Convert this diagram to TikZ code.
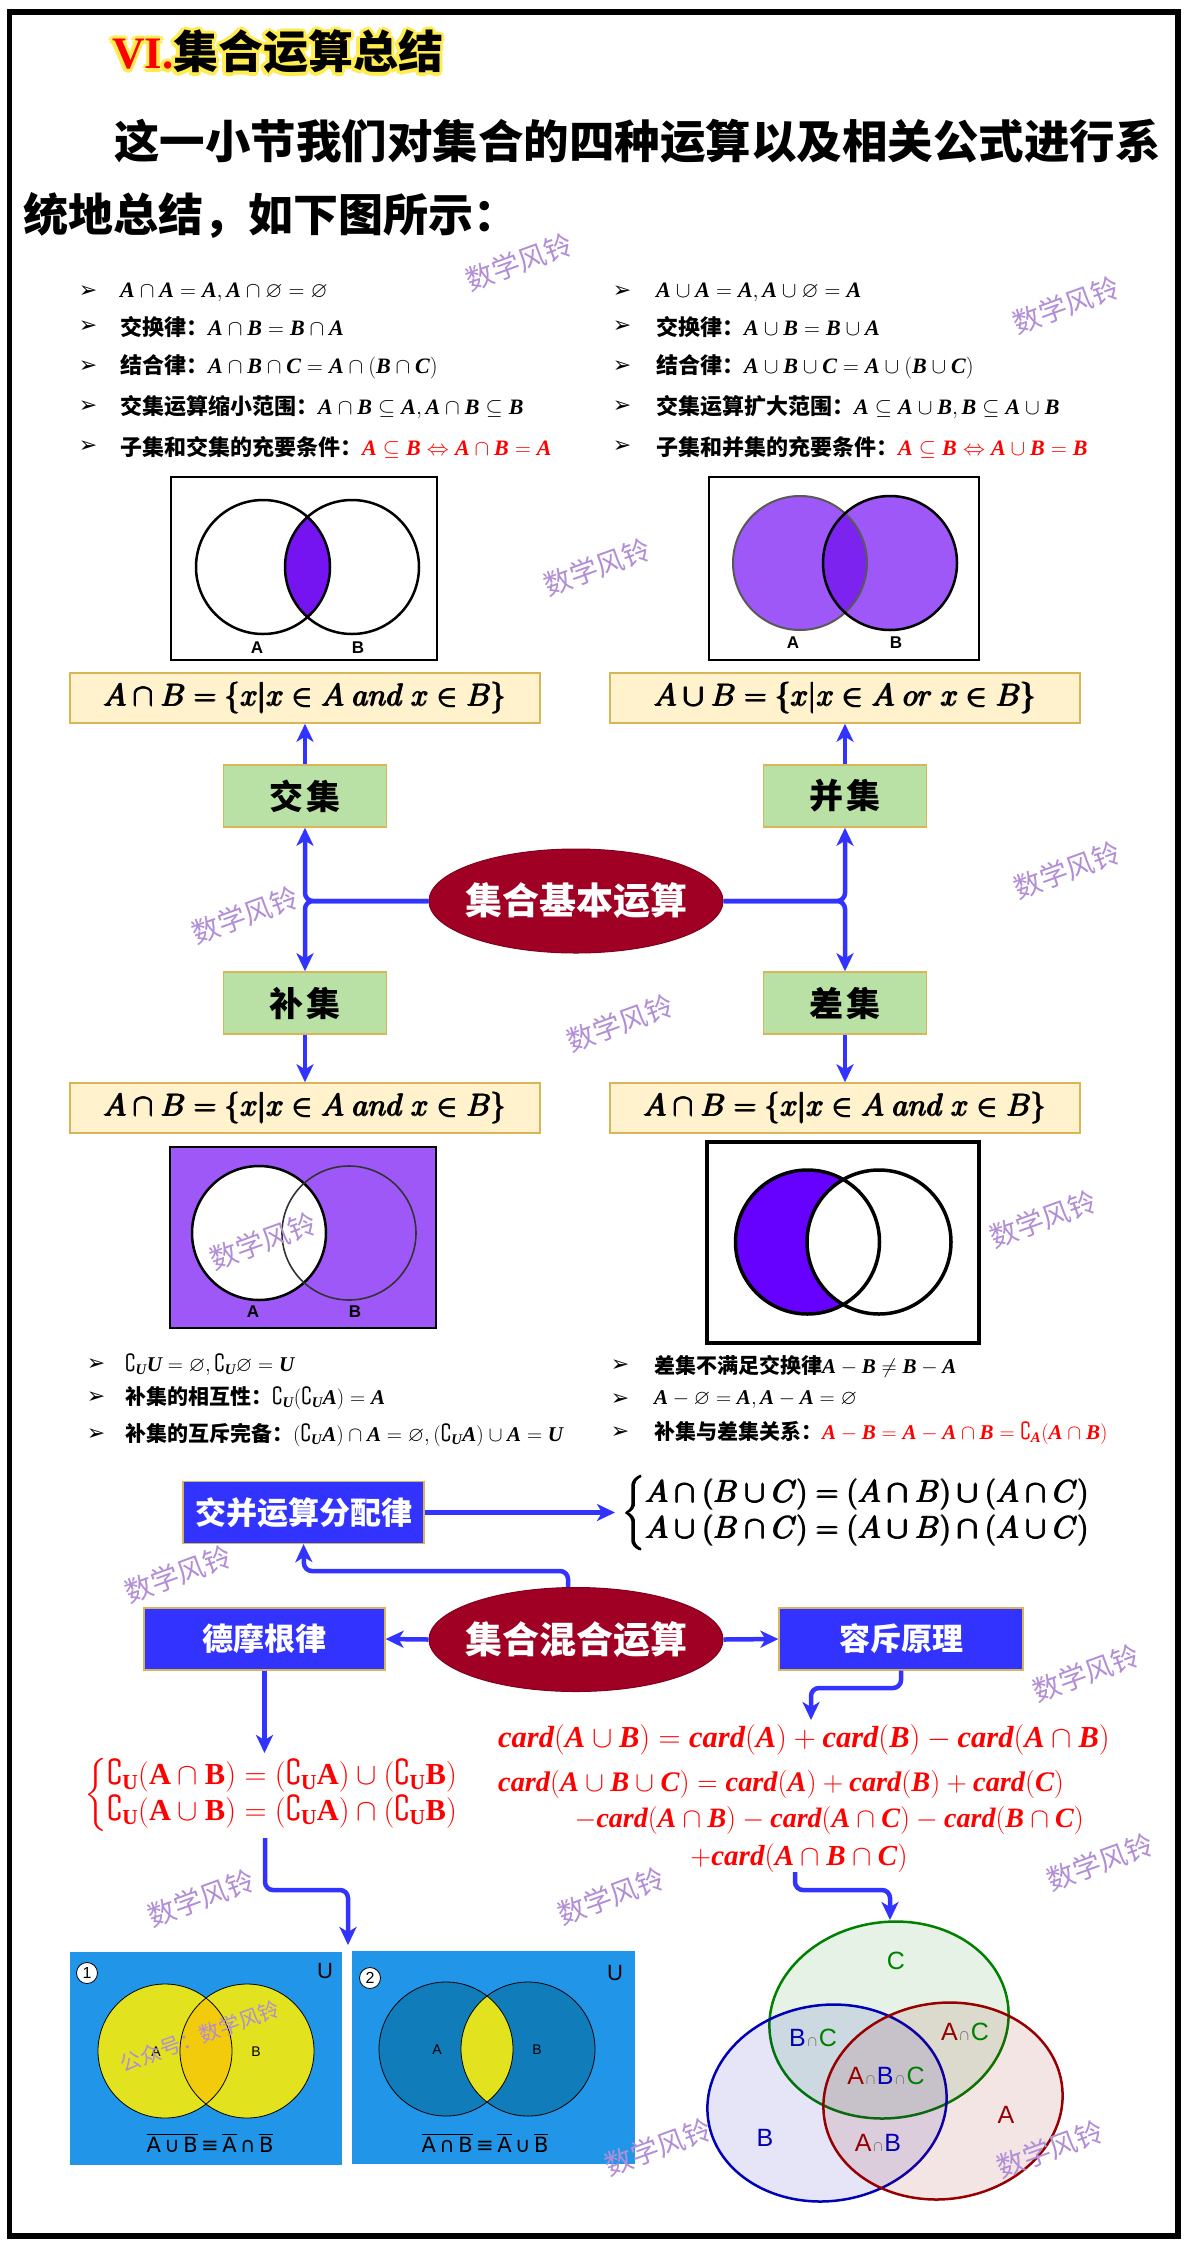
\RequirePackage{fix-cm}
\documentclass[tikz,border=0pt]{standalone}
\usepackage{amssymb}
\usepackage{fontspec}
\usetikzlibrary{shapes.geometric,arrows.meta}
\newfontfamily\cjk{Noto Sans CJK SC}
\newfontfamily\tnr{Liberation Serif}[NFSSFamily=tnr]
\newfontfamily\lsans{Liberation Sans}
\newfontfamily\dejavu{DejaVu Sans}
\DeclareMathAlphabet{\mtb}{TU}{tnr}{bx}{it}
\DeclareMathAlphabet{\mtr}{TU}{tnr}{bx}{n}
\newcommand\fsz[1]{\fontsize{#1}{#1}\selectfont}
\newcommand\pbold[1]{\leavevmode\rlap{#1}\rlap{\kern0.8pt#1}\rlap{\kern1.6pt#1}\rlap{\raisebox{0.7pt}{\kern0.8pt#1}}\rlap{\raisebox{-0.7pt}{\kern0.8pt#1}}\kern1.6pt\phantom{#1}}
\newcommand\setand{\lbrace x\vert x\in A\mkern5mu and\mkern5mu x\in B\rbrace}
\newcommand\setor{\lbrace x\vert x\in A\mkern5mu or\mkern5mu x\in B\rbrace}
\definecolor{wmc}{RGB}{178,142,214}
\definecolor{cblue}{RGB}{51,51,255}
\definecolor{bfill}{RGB}{51,51,255}
\definecolor{boxb}{RGB}{214,182,86}
\definecolor{gfill}{RGB}{185,224,165}
\definecolor{yfill}{RGB}{255,242,204}
\definecolor{ellc}{RGB}{160,0,35}
\definecolor{pv}{RGB}{117,20,240}
\definecolor{pl}{RGB}{158,88,248}
\definecolor{pd}{RGB}{125,35,240}
\definecolor{pdiff}{RGB}{102,0,255}
\definecolor{vbg}{RGB}{33,150,232}
\definecolor{vy}{RGB}{226,226,30}
\definecolor{vo}{RGB}{242,204,12}
\definecolor{vdb}{RGB}{17,124,186}
\definecolor{cg}{RGB}{0,128,0}
\definecolor{cb}{RGB}{0,0,180}
\definecolor{cr}{RGB}{150,0,0}
\definecolor{glowc}{RGB}{255,236,80}
\newcommand\ttl[2]{{\tnr\bfseries\color{#1}VI.}{\cjk\bfseries\color{#2}集合运算总结}}
\begin{document}
\begin{tikzpicture}[x=1pt,y=-1pt,
  wmark/.style={text=wmc, font=\cjk\fsz{28}, rotate=20, inner sep=0pt},
  gbox/.style={draw=boxb, fill=gfill, line width=1.5pt, minimum width=163pt, minimum height=62pt, font=\cjk\bfseries\fsz{34}, inner sep=0pt},
  formbox/.style={draw=boxb, fill=yfill, line width=1.5pt, minimum width=470pt, minimum height=50pt, inner sep=0pt, font=\fsz{31}},
  bbox/.style={draw=boxb, fill=bfill, line width=1.2pt, minimum width=241pt, minimum height=62pt, text=white, font=\cjk\bfseries\fsz{31}, inner sep=0pt},
  ellbox/.style={ellipse, fill=ellc, draw=ellc!80!black, line width=1pt, minimum width=294pt, minimum height=104pt, text=white, font=\cjk\bfseries\fsz{37}, inner sep=0pt},
  conn/.style={draw=cblue, line width=4.5pt, rounded corners=8pt},
  arw/.style={-{Stealth[length=18pt,width=17pt,inset=5pt]}},
  bul/.style={anchor=west, inner sep=0pt, font=\cjk\bfseries\fsz{22}},
  bulb/.style={anchor=west, inner sep=0pt, font=\cjk\bfseries\fsz{21}},
  bmark/.style={inner sep=0pt, font=\dejavu\fsz{22}},
  vlab/.style={inner sep=0pt, font=\lsans\bfseries\fsz{17}},
  v3lab/.style={inner sep=0pt, font=\lsans\fsz{25}},
  slab/.style={inner sep=0pt, font=\lsans\fsz{14}},
  vline/.style={line width=2.5pt}]
\useasboundingbox (0,0) rectangle (1192,2248);
\fill[white] (0,0) rectangle (1192,2248);
\draw[line width=5.5pt] (9.5,12) rectangle (1178,2236);

% title
\foreach \dx/\dy [count=\i] in {3.5/0,-3.5/0,0/3.5,0/-3.5,2.5/2.5,2.5/-2.5,-2.5/2.5,-2.5/-2.5}
  \node[anchor=west, inner sep=0pt, font=\fsz{45}] (glow\i) at (112+\dx,52+\dy) {\ttl{glowc}{glowc}};
\node[anchor=west, inner sep=0pt, font=\fsz{45}] (title) at (112,52) {\ttl{red}{black}};
\node[anchor=west, inner sep=0pt, font=\cjk\bfseries\fsz{45.5}] (l1) at (114,141) {这一小节我们对集合的四种运算以及相关公式进行系};
\node[anchor=west, inner sep=0pt, font=\cjk\bfseries\fsz{45}] (l2) at (23,215) {统地总结，如下图所示：};

% top bullets left
\node[bmark] (am1) at (88,292) {➢};
\node[bul] (tl1) at (120,292) {$\mtb{A\cap A=A,A\cap\varnothing=\varnothing}$};
\node[bmark] (am2) at (88,327) {➢};
\node[bul] (tl2) at (120,327) {交换律：$\mtb{A\cap B=B\cap A}$};
\node[bmark] (am3) at (88,367) {➢};
\node[bul] (tl3) at (120,367) {结合律：$\mtb{A\cap B\cap C=A\cap(B\cap C)}$};
\node[bmark] (am4) at (88,407) {➢};
\node[bul] (tl4) at (120,407) {交集运算缩小范围：$\mtb{A\cap B\subseteq A,A\cap B\subseteq B}$};
\node[bmark] (am5) at (88,447) {➢};
\node[bul] (tl5) at (120,447) {子集和交集的充要条件：\textcolor{red}{$\mtb{A\subseteq B\Leftrightarrow A\cap B=A}$}};
% top bullets right
\node[bmark] (bm1) at (622,292) {➢};
\node[bul] (tr1) at (656,292) {$\mtb{A\cup A=A,A\cup\varnothing=A}$};
\node[bmark] (bm2) at (622,327) {➢};
\node[bul] (tr2) at (656,327) {交换律：$\mtb{A\cup B=B\cup A}$};
\node[bmark] (bm3) at (622,367) {➢};
\node[bul] (tr3) at (656,367) {结合律：$\mtb{A\cup B\cup C=A\cup(B\cup C)}$};
\node[bmark] (bm4) at (622,407) {➢};
\node[bul] (tr4) at (656,407) {交集运算扩大范围：$\mtb{A\subseteq A\cup B,B\subseteq A\cup B}$};
\node[bmark] (bm5) at (622,447) {➢};
\node[bul] (tr5) at (656,447) {子集和并集的充要条件：\textcolor{red}{$\mtb{A\subseteq B\Leftrightarrow A\cup B=B}$}};

% venn intersection
\begin{scope}
  \clip (263,567) circle[radius=67pt];
  \fill[pv] (352,567) circle[radius=67pt];
\end{scope}
\draw[vline] (263,567) circle[radius=67pt] (352,567) circle[radius=67pt];
\draw[vline] (171,477) rectangle (437,660);
\node[vlab] (va1) at (257,648) {A};
\node[vlab] (vb1) at (358,648) {B};

% venn union
\fill[pl] (800,563) circle[radius=67pt];
\fill[pl] (890,563) circle[radius=67pt];
\begin{scope}
  \clip (800,563) circle[radius=67pt];
  \fill[pd] (890,563) circle[radius=67pt];
\end{scope}
\draw[line width=2pt, draw=black!65] (800,563) circle[radius=67pt];
\draw[vline] (890,563) circle[radius=67pt];
\draw[vline] (709,477) rectangle (979,660);
\node[vlab] (va2) at (793,643) {A};
\node[vlab] (vb2) at (896,643) {B};

% formula boxes row 1
\node[formbox] (f1) at (305,698) {\pbold{$A\cap B=\setand$}};
\node[formbox] (f2) at (845,698) {\pbold{$A\cup B=\setor$}};

% green boxes
\node[gbox] (jiao) at (305,796) {交\hspace{3pt}集};
\node[gbox] (bing) at (845,796) {并\hspace{3pt}集};
\node[gbox] (bu) at (305,1003) {补\hspace{3pt}集};
\node[gbox] (cha) at (845,1003) {差\hspace{3pt}集};

% formula boxes row 2
\node[formbox] (f3) at (305,1108) {\pbold{$A\cap B=\setand$}};
\node[formbox] (f4) at (845,1108) {\pbold{$A\cap B=\setand$}};

% central ellipse 1
\node[ellbox] (e1) at (576,901) {\makebox[0pt]{集合基本运算}};

\draw[conn,arw] (e1.west) -| (jiao.south);
\draw[conn,arw] (e1.west) -| (bu.north);
\draw[conn,arw] (e1.east) -| (bing.south);
\draw[conn,arw] (e1.east) -| (cha.north);
\draw[conn,arw] (jiao.north) -- (f1.south);
\draw[conn,arw] (bing.north) -- (f2.south);
\draw[conn,arw] (bu.south) -- (f3.north);
\draw[conn,arw] (cha.south) -- (f4.north);

% venn complement
\fill[pl] (170,1147) rectangle (436,1328);
\fill[white] (259,1233) circle[radius=67pt];
\draw[vline] (259,1233) circle[radius=67pt];
\draw[line width=1.6pt, draw=black!80] (349,1233) circle[radius=67pt];
\draw[vline] (170,1147) rectangle (436,1328);
\node[vlab] (va3) at (253,1312) {A};
\node[vlab] (vb3) at (355,1312) {B};

% venn difference
\fill[pdiff] (807.5,1242) circle[radius=72pt];
\fill[white] (879,1242) circle[radius=72pt];
\draw[line width=3.5pt] (807.5,1242) circle[radius=72pt] (879,1242) circle[radius=72pt];
\draw[line width=4pt] (707,1142) rectangle (979,1343);

% bottom bullets left
\node[bmark] (cm1) at (96,1365) {➢};
\node[bulb] (bl1) at (125,1365) {$\mtb{\complement_U U=\varnothing,\complement_U\varnothing=U}$};
\node[bmark] (cm2) at (96,1398) {➢};
\node[bulb] (bl2) at (125,1398) {补集的相互性：$\mtb{\complement_U(\complement_U A)=A}$};
\node[bmark] (cm3) at (96,1435) {➢};
\node[bulb] (bl3) at (125,1435) {补集的互斥完备：$\mtb{(\complement_U A)\cap A=\varnothing,(\complement_U A)\cup A=U}$};
% bottom bullets right
\node[bmark] (dm1) at (620,1366) {➢};
\node[bulb] (br1) at (654,1366) {差集不满足交换律$\mtb{A-B\neq B-A}$};
\node[bmark] (dm2) at (620,1400) {➢};
\node[bulb] (br2) at (654,1400) {$\mtb{A-\varnothing=A,A-A=\varnothing}$};
\node[bmark] (dm3) at (620,1433) {➢};
\node[bulb] (br3) at (654,1433) {补集与差集关系：\textcolor{red}{$\mtb{A-B=A-A\cap B=\complement_A(A\cap B)}$}};

% mixed operations
\node[bbox] (jb) at (303.5,1512.5) {交并运算分配律};
\node[bbox] (dmg) at (264.5,1639) {德摩根律};
\node[bbox, minimum width=244pt] (rc) at (901,1639) {容斥原理};

\coordinate (e2top) at (568,1594);
\coordinate (jbturn) at (304,1571);
\draw[conn,arw] (e2top) |- (jbturn) -- (jb.south);

\node[ellbox] (e2) at (576,1639.5) {\makebox[0pt]{集合混合运算}};

\node[anchor=west, inner sep=0pt, font=\fontsize{31}{36}\selectfont] (dist) at (621,1513)
  {\pbold{$\left\lbrace\begin{array}{@{}l@{}}A\cap(B\cup C)=(A\cap B)\cup(A\cap C)\\ A\cup(B\cap C)=(A\cup B)\cap(A\cup C)\end{array}\right.$}};
\coordinate (distin) at (615,1512.5);
\draw[conn,arw] (jb.east) -- (distin);

\draw[conn,arw] (e2.west) -- (dmg.east);
\draw[conn,arw] (e2.east) -- (rc.west);

\coordinate (dmtip) at (264.5,1753);
\draw[conn,arw] (dmg.south) -- (dmtip);
\node[anchor=west, inner sep=0pt, font=\fontsize{30.5}{35}\selectfont, text=red] (dmf) at (84,1795)
  {$\left\lbrace\begin{array}{@{}l@{}}\mtr{\complement_U(A\cap B)=(\complement_U A)\cup(\complement_U B)}\\ \mtr{\complement_U(A\cup B)=(\complement_U A)\cap(\complement_U B)}\end{array}\right.$};
\coordinate (dmout) at (265,1838);
\coordinate (dmturn) at (348,1890);
\coordinate (v1in) at (348,1945);
\draw[conn,arw] (dmout) |- (dmturn) -- (v1in);

\coordinate (rcturn) at (811,1688);
\coordinate (cardtip) at (811,1720);
\draw[conn,arw] (rc.south) |- (rcturn) -- (cardtip);

\node[anchor=west, inner sep=0pt, font=\fsz{30.5}, text=red] (c1) at (498,1740) {$\mtb{card(A\cup B)=card(A)+card(B)-card(A\cap B)}$};
\node[anchor=west, inner sep=0pt, font=\fsz{28.3}, text=red] (c2) at (498,1784) {$\mtb{card(A\cup B\cup C)=card(A)+card(B)+card(C)}$};
\node[anchor=east, inner sep=0pt, font=\fsz{28}, text=red] (c3) at (1084,1820) {$\mtb{-card(A\cap B)-card(A\cap C)-card(B\cap C)}$};
\node[inner sep=0pt, font=\fsz{29}, text=red] (c4) at (799,1858) {$\mtb{+card(A\cap B\cap C)}$};

\coordinate (cardout) at (795,1872);
\coordinate (v3turn) at (890,1890);
\coordinate (v3tip) at (890,1920);
\draw[conn,arw] (cardout) |- (v3turn) -- (v3tip);

% bottom venn 1
\fill[vbg] (70,1952) rectangle (342,2165);
\fill[vy] (165,2051) circle[radius=67pt] (247,2051) circle[radius=67pt];
\begin{scope}
  \clip (165,2051) circle[radius=67pt];
  \fill[vo] (247,2051) circle[radius=67pt];
\end{scope}
\draw[line width=0.8pt] (165,2051) circle[radius=67pt] (247,2051) circle[radius=67pt];
\node[slab] (va4) at (156,2052) {A};
\node[slab] (vb4) at (256,2052) {B};
\node[inner sep=0pt, font=\lsans\fsz{22}] (u1) at (325,1971) {U};
\node[circle, draw, fill=white, line width=0.8pt, inner sep=0pt, minimum size=21pt, font=\lsans\fsz{16}] (n1) at (87,1973) {1};
\node[inner sep=0pt, font=\dejavu\fsz{21}] (fm1) at (210,2143) {$\overline{\hbox{A\,∪\,B}}$\,≡\,$\overline{\hbox{A}}$\,∩\,$\overline{\hbox{B}}$};

% bottom venn 2
\fill[vbg] (352,1951) rectangle (635,2164);
\fill[vdb] (446,2049) circle[radius=67pt] (528,2049) circle[radius=67pt];
\begin{scope}
  \clip (446,2049) circle[radius=67pt];
  \fill[vy] (528,2049) circle[radius=67pt];
\end{scope}
\draw[line width=0.8pt] (446,2049) circle[radius=67pt] (528,2049) circle[radius=67pt];
\node[slab] (va5) at (437,2050) {A};
\node[slab] (vb5) at (537,2050) {B};
\node[inner sep=0pt, font=\lsans\fsz{22}] (u2) at (615,1973) {U};
\node[circle, draw, fill=white, line width=0.8pt, inner sep=0pt, minimum size=21pt, font=\lsans\fsz{16}] (n2) at (370,1978) {2};
\node[inner sep=0pt, font=\dejavu\fsz{21}] (fm2) at (485,2143) {$\overline{\hbox{A\,∩\,B}}$\,≡\,$\overline{\hbox{A}}$\,∪\,$\overline{\hbox{B}}$};

% three-set venn
\filldraw[line width=2.5pt, draw=cg, fill=cg, fill opacity=0.1, rotate around={8:(889,2020)}] (889,2020) ellipse [x radius=120pt, y radius=98pt];
\filldraw[line width=2.5pt, draw=cb, fill=cb, fill opacity=0.1, rotate around={8:(827,2103)}] (827,2103) ellipse [x radius=120pt, y radius=98pt];
\filldraw[line width=2.5pt, draw=cr, fill=cr, fill opacity=0.1, rotate around={8:(943,2101)}] (943,2101) ellipse [x radius=120pt, y radius=98pt];
\node[v3lab, text=cg] (lc) at (896,1961) {C};
\node[v3lab] (lbc) at (813,2038) {\textcolor{cb}{B}{\fsz{18}\textcolor{gray}{∩}}\textcolor{cg}{C}};
\node[v3lab] (lac) at (965,2032) {\textcolor{cr}{A}{\fsz{18}\textcolor{gray}{∩}}\textcolor{cg}{C}};
\node[v3lab] (labc) at (886,2076) {\textcolor{cr}{A}{\fsz{18}\textcolor{gray}{∩}}\textcolor{cb}{B}{\fsz{18}\textcolor{gray}{∩}}\textcolor{cg}{C}};
\node[v3lab, text=cr] (la) at (1006,2115) {A};
\node[v3lab, text=cb] (lb) at (765,2138) {B};
\node[v3lab] (lab) at (878,2143) {\textcolor{cr}{A}{\fsz{18}\textcolor{gray}{∩}}\textcolor{cb}{B}};

% watermarks
\foreach \x/\y [count=\i] in {519/262, 1066/305, 597/567, 245/915, 1067/870, 620/1023, 263/1241, 1043/1219, 178/1574, 1086/1673, 201/1898, 611/1896, 1100/1862, 658/2147, 1050/2149}
  \node[wmark] (wm\i) at (\x,\y) {数学风铃};
\node[wmark, font=\cjk\fsz{21}] (wm16) at (200,2036) {公众号：数学风铃};
\end{tikzpicture}
\end{document}
